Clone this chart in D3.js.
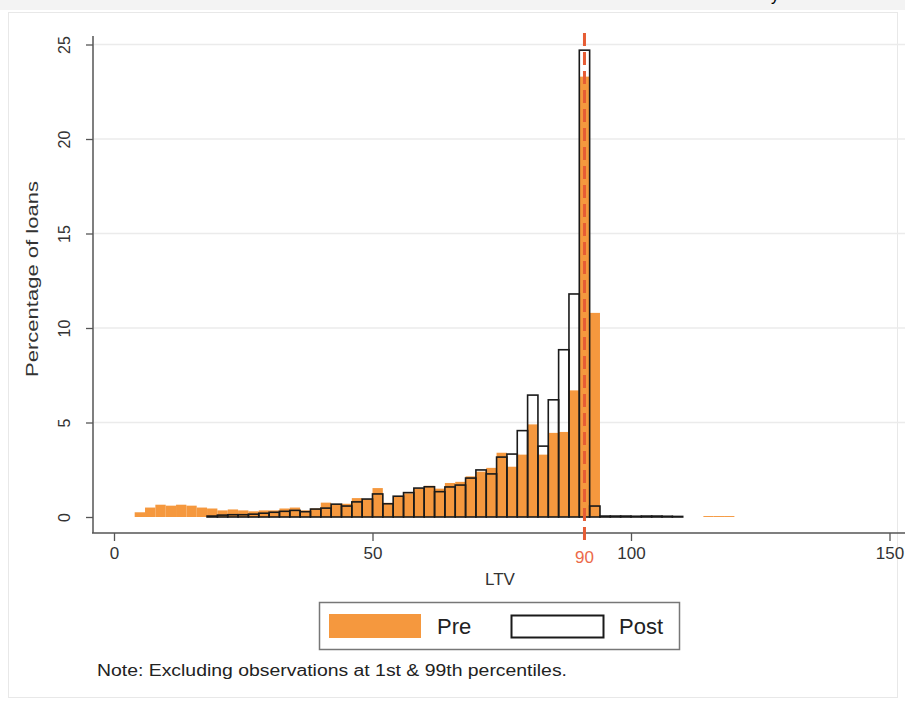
<!DOCTYPE html>
<html>
<head>
<meta charset="utf-8">
<script src="https://cdn.jsdelivr.net/npm/d3@7"></script>
<style>
  body { margin: 0; background: #fff; }
  svg { display: block; font-family: "Liberation Sans", Arial, sans-serif; }
</style>
</head>
<body>
<svg id="chart" width="905" height="704"></svg>
<script>
// bin starts (width 2), LTV
var binStart = [4, 6, 8, 10, 12, 14, 16, 18, 20, 22, 24, 26, 28, 30, 32, 34,
  36, 38, 40, 42, 44, 46, 48, 50, 52, 54, 56, 58, 60, 62, 64, 66, 68, 70,
  72, 74, 76, 78, 80, 82, 84, 86, 88, 90, 92,
  94, 96, 98, 100, 102, 104, 106, 108, 110, 112, 114, 116, 118];
// percentage of loans, pre
var preVals = [0.25, 0.5, 0.65, 0.6, 0.65, 0.6, 0.5, 0.45, 0.35, 0.4, 0.35, 0.3, 0.35, 0.35, 0.45, 0.5,
  0.35, 0.45, 0.76, 0.68, 0.7, 1.0, 0.95, 1.53, 0.75, 1.1, 1.25, 1.5, 1.65, 1.5, 1.8, 1.86, 2.15, 2.4,
  2.6, 3.4, 2.66, 3.3, 4.9, 3.3, 4.45, 4.5, 6.7, 23.3, 10.8,
  0.03, 0.03, 0.02, 0.02, 0.03, 0.02, 0.02, 0.02, 0, 0, 0.05, 0.05, 0.05];
// percentage of loans, post
var postVals = [0, 0, 0, 0, 0, 0, 0, 0.05, 0.1, 0.12, 0.12, 0.15, 0.2, 0.25, 0.3, 0.35,
  0.28, 0.42, 0.47, 0.68, 0.58, 0.8, 0.95, 1.22, 0.7, 1.1, 1.29, 1.53, 1.6, 1.34, 1.59, 1.69, 2.06, 2.49,
  2.28, 3.17, 3.33, 4.57, 6.45, 3.75, 6.2, 8.85, 11.8, 24.7, 0.58,
  0.05, 0.05, 0.05, 0.04, 0.05, 0.05, 0.04, 0.03, 0, 0, 0, 0, 0];
var binWidth = 2;

var xTicks = [0, 50, 100, 150];
var yTicks = [0, 5, 10, 15, 20, 25];
var cutoffPos = 91;      // where the marker line sits
var cutoffLabel = "90";

var orange = "#f5983e";
var redLine = "#e65c34";

var svg = d3.select("#chart");

// outer frame of the graph region
svg.append("rect").attr("x", 0).attr("y", 0).attr("width", 905).attr("height", 10)
  .attr("fill", "#f3f3f3");
svg.append("rect").attr("x", 8.5).attr("y", 12.5).attr("width", 889).attr("height", 685)
  .attr("fill", "none").attr("stroke", "#e8e8e8");
// descender of the cropped title above
svg.append("text").attr("x", 771).attr("y", 1).attr("font-size", 16).text("y");

var x = d3.scaleLinear().domain([0, 150]).range([114, 889.5]);
var y = d3.scaleLinear().domain([0, 25]).range([517, 44.5]);

// gridlines
svg.append("g").selectAll("line").data(yTicks.slice(1)).enter().append("line")
  .attr("x1", 94).attr("x2", 905)
  .attr("y1", function (d) { return y(d); })
  .attr("y2", function (d) { return y(d); })
  .attr("stroke", "#ebebeb").attr("stroke-width", 1.5);

var bins = binStart.map(function (b, i) {
  return { x0: b, pre: preVals[i], post: postVals[i] };
});

svg.append("g").selectAll("rect").data(bins.filter(function (d) { return d.pre > 0; }))
  .enter().append("rect")
  .attr("x", function (d) { return x(d.x0); })
  .attr("width", function (d) { return x(d.x0 + binWidth) - x(d.x0); })
  .attr("y", function (d) { return y(d.pre); })
  .attr("height", function (d) { return y(0) - y(d.pre); })
  .attr("fill", orange);

svg.append("g").selectAll("rect").data(bins.filter(function (d) { return d.post > 0; }))
  .enter().append("rect")
  .attr("x", function (d) { return x(d.x0); })
  .attr("width", function (d) { return x(d.x0 + binWidth) - x(d.x0); })
  .attr("y", function (d) { return y(d.post); })
  .attr("height", function (d) { return y(0) - y(d.post); })
  .attr("fill", "none")
  .attr("stroke", "#1a1a1a")
  .attr("stroke-width", 1.6);

// y axis
var yAxis = svg.append("g").attr("transform", "translate(93,0)")
  .call(d3.axisLeft(y).tickValues(yTicks).tickSize(7).tickPadding(0).tickFormat(d3.format("d")));
yAxis.select(".domain").attr("d", "M0,36V533").attr("stroke", "#555").attr("stroke-width", 1.5);
yAxis.selectAll(".tick line").attr("stroke", "#555").attr("stroke-width", 1.3);
yAxis.selectAll(".tick text")
  .attr("x", 0).attr("y", 0)
  .attr("transform", "translate(-29,0) rotate(-90)")
  .attr("text-anchor", "middle")
  .attr("dy", "0.35em")
  .attr("font-size", 16).attr("fill", "#333");

// x axis
var xAxis = svg.append("g").attr("transform", "translate(0,533)")
  .call(d3.axisBottom(x).tickValues(xTicks).tickSize(8).tickPadding(6).tickFormat(d3.format("d")));
xAxis.select(".domain").attr("d", "M92,0H905").attr("stroke", "#555").attr("stroke-width", 1.5);
xAxis.selectAll(".tick line").attr("stroke", "#555").attr("stroke-width", 1.3);
xAxis.selectAll(".tick text").attr("font-size", 17).attr("fill", "#333");

// cutoff marker
svg.append("line")
  .attr("x1", x(cutoffPos)).attr("x2", x(cutoffPos))
  .attr("y1", 33).attr("y2", 541)
  .attr("stroke", redLine).attr("stroke-width", 3)
  .attr("stroke-dasharray", "13,6");
svg.append("text").attr("x", x(cutoffPos)).attr("y", 563)
  .attr("text-anchor", "middle").attr("font-size", 17).attr("fill", "#ec6a4a")
  .text(cutoffLabel);

// axis titles
svg.append("text").attr("x", 500).attr("y", 585).attr("text-anchor", "middle")
  .attr("font-size", 17).attr("fill", "#333").text("LTV");
svg.append("text").attr("transform", "translate(38,279) rotate(-90)")
  .attr("text-anchor", "middle").attr("font-size", 17).attr("fill", "#333")
  .attr("textLength", 196).attr("lengthAdjust", "spacingAndGlyphs")
  .text("Percentage of loans");

// legend
var leg = svg.append("g");
leg.append("rect").attr("x", 319.5).attr("y", 602.5).attr("width", 360).attr("height", 47)
  .attr("fill", "#fff").attr("stroke", "#777").attr("stroke-width", 1.5);
leg.append("rect").attr("x", 329).attr("y", 614).attr("width", 92).attr("height", 24)
  .attr("fill", orange);
leg.append("text").attr("x", 437).attr("y", 634).attr("font-size", 22).attr("fill", "#222").text("Pre");
leg.append("rect").attr("x", 511.5).attr("y", 615.5).attr("width", 92).attr("height", 22)
  .attr("fill", "#fff").attr("stroke", "#1a1a1a").attr("stroke-width", 2);
leg.append("text").attr("x", 619).attr("y", 634).attr("font-size", 22).attr("fill", "#222").text("Post");

svg.append("text").attr("x", 97).attr("y", 676).attr("font-size", 16).attr("fill", "#222")
  .attr("textLength", 470).attr("lengthAdjust", "spacingAndGlyphs")
  .text("Note: Excluding observations at 1st & 99th percentiles.");
</script>
</body>
</html>
